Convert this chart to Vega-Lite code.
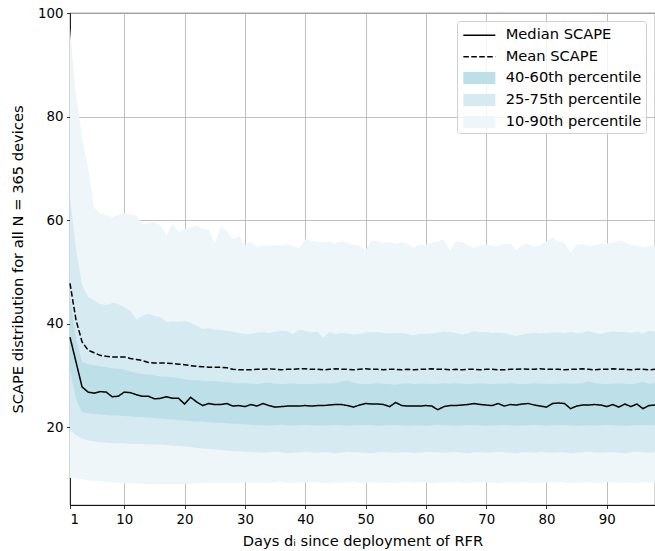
{
"$schema": "https://vega.github.io/schema/vega-lite/v6.json",
"width": 585, "height": 492,
"autosize": {"type": "none"},
"padding": {"left": 70, "top": 13, "right": 0, "bottom": 46},
"background": "white",
"config": {
 "font": "DejaVu Sans",
 "view": {"stroke": "black", "strokeWidth": 0.8},
 "axis": {"labelFont": "DejaVu Sans", "labelFontSize": 13.33, "labelColor": "black", "titleFont": "DejaVu Sans", "titleFontSize": 14.67, "titleFontWeight": "normal", "titleColor": "black", "domainColor": "black", "domainWidth": 0.8, "tickColor": "black", "tickWidth": 0.8, "tickSize": 3.5, "labelPadding": 3.5, "gridColor": "#b0b0b0", "gridWidth": 0.8, "gridOpacity": 1, "zindex": 1},
 "legend": {"orient": "none", "legendX": 387, "labelFont": "DejaVu Sans", "labelFontSize": 14.67, "labelColor": "black", "padding": 4, "rowPadding": 7, "symbolSize": 100, "labelOffset": 19, "symbolOffset": 11}
},
"data": {"values": [
{"d":1,"med":37.4,"mn":47.8,"p10":10.2,"p25":19.5,"p40":31.0,"p60":45.0,"p75":64.5,"p90":97.0},
{"d":2,"med":32.6,"mn":40.7,"p10":10.1,"p25":18.5,"p40":25.5,"p60":37.0,"p75":54.5,"p90":84.0},
{"d":3,"med":27.8,"mn":36.5,"p10":10.0,"p25":17.8,"p40":22.9,"p60":32.6,"p75":47.5,"p90":76.0},
{"d":4,"med":26.8,"mn":34.9,"p10":9.8,"p25":17.5,"p40":22.7,"p60":32.2,"p75":45.2,"p90":70.0},
{"d":5,"med":26.6,"mn":34.4,"p10":9.7,"p25":17.3,"p40":22.6,"p60":32.0,"p75":44.5,"p90":62.5},
{"d":6,"med":26.9,"mn":33.9,"p10":9.6,"p25":17.1,"p40":22.5,"p60":31.8,"p75":43.8,"p90":61.2},
{"d":7,"med":26.8,"mn":33.7,"p10":9.5,"p25":17.0,"p40":22.4,"p60":31.6,"p75":43.6,"p90":61.0},
{"d":8,"med":25.9,"mn":33.6,"p10":9.4,"p25":16.9,"p40":22.3,"p60":31.4,"p75":44.0,"p90":60.6},
{"d":9,"med":26.0,"mn":33.6,"p10":9.3,"p25":16.9,"p40":22.3,"p60":31.3,"p75":43.8,"p90":61.0},
{"d":10,"med":26.8,"mn":33.6,"p10":9.2,"p25":16.9,"p40":22.2,"p60":31.1,"p75":43.2,"p90":61.4},
{"d":11,"med":26.7,"mn":33.3,"p10":9.2,"p25":16.8,"p40":22.1,"p60":30.8,"p75":42.5,"p90":61.2},
{"d":12,"med":26.3,"mn":33.1,"p10":9.1,"p25":16.8,"p40":22.0,"p60":30.5,"p75":40.8,"p90":60.9},
{"d":13,"med":26.0,"mn":32.9,"p10":9.1,"p25":16.8,"p40":22.0,"p60":30.3,"p75":41.5,"p90":59.2},
{"d":14,"med":26.0,"mn":32.5,"p10":9.0,"p25":16.7,"p40":21.9,"p60":30.2,"p75":42.0,"p90":59.4},
{"d":15,"med":25.5,"mn":32.4,"p10":9.0,"p25":16.7,"p40":21.8,"p60":30.0,"p75":41.5,"p90":59.6},
{"d":16,"med":25.6,"mn":32.4,"p10":9.0,"p25":16.7,"p40":21.7,"p60":29.8,"p75":41.3,"p90":59.0},
{"d":17,"med":25.9,"mn":32.4,"p10":9.1,"p25":16.6,"p40":21.6,"p60":29.8,"p75":40.3,"p90":57.1},
{"d":18,"med":25.6,"mn":32.3,"p10":9.0,"p25":16.5,"p40":21.5,"p60":29.7,"p75":40.5,"p90":59.4},
{"d":19,"med":25.6,"mn":32.2,"p10":9.0,"p25":16.4,"p40":21.4,"p60":29.5,"p75":40.4,"p90":57.7},
{"d":20,"med":24.5,"mn":32.1,"p10":9.1,"p25":16.3,"p40":21.3,"p60":29.3,"p75":40.6,"p90":58.3},
{"d":21,"med":25.8,"mn":31.9,"p10":9.1,"p25":16.2,"p40":21.2,"p60":29.1,"p75":40.2,"p90":58.6},
{"d":22,"med":24.9,"mn":31.8,"p10":9.2,"p25":16.0,"p40":21.1,"p60":29.1,"p75":39.6,"p90":59.0},
{"d":23,"med":24.2,"mn":31.7,"p10":9.2,"p25":15.9,"p40":21.1,"p60":29.0,"p75":39.0,"p90":58.3},
{"d":24,"med":24.6,"mn":31.6,"p10":9.3,"p25":15.8,"p40":21.0,"p60":28.9,"p75":39.2,"p90":58.2},
{"d":25,"med":24.4,"mn":31.6,"p10":9.2,"p25":15.7,"p40":20.9,"p60":28.9,"p75":38.9,"p90":55.5},
{"d":26,"med":24.4,"mn":31.6,"p10":9.3,"p25":15.6,"p40":20.9,"p60":28.8,"p75":38.8,"p90":58.8},
{"d":27,"med":24.6,"mn":31.5,"p10":9.3,"p25":15.5,"p40":20.8,"p60":28.7,"p75":38.6,"p90":57.8},
{"d":28,"med":24.1,"mn":31.2,"p10":9.2,"p25":15.4,"p40":20.7,"p60":28.6,"p75":38.5,"p90":56.3},
{"d":29,"med":24.2,"mn":31.1,"p10":9.3,"p25":15.4,"p40":20.7,"p60":28.5,"p75":38.2,"p90":57.0},
{"d":30,"med":24.0,"mn":31.1,"p10":9.4,"p25":15.3,"p40":20.6,"p60":28.5,"p75":38.0,"p90":55.2},
{"d":31,"med":24.4,"mn":31.1,"p10":9.3,"p25":15.3,"p40":20.5,"p60":28.4,"p75":38.0,"p90":55.8},
{"d":32,"med":24.1,"mn":31.2,"p10":9.4,"p25":15.2,"p40":20.4,"p60":28.3,"p75":38.3,"p90":54.8},
{"d":33,"med":24.6,"mn":31.2,"p10":9.3,"p25":15.1,"p40":20.4,"p60":28.5,"p75":38.4,"p90":55.2},
{"d":34,"med":24.2,"mn":31.3,"p10":9.2,"p25":15.2,"p40":20.3,"p60":28.6,"p75":38.2,"p90":55.0},
{"d":35,"med":23.9,"mn":31.2,"p10":9.4,"p25":15.3,"p40":20.4,"p60":28.4,"p75":38.4,"p90":55.2},
{"d":36,"med":24.0,"mn":31.1,"p10":9.5,"p25":15.2,"p40":20.5,"p60":28.3,"p75":38.7,"p90":55.1},
{"d":37,"med":24.1,"mn":31.2,"p10":9.3,"p25":15.0,"p40":20.4,"p60":28.4,"p75":38.5,"p90":55.3},
{"d":38,"med":24.1,"mn":31.2,"p10":9.2,"p25":15.1,"p40":20.3,"p60":28.5,"p75":38.0,"p90":55.0},
{"d":39,"med":24.1,"mn":31.3,"p10":9.4,"p25":15.2,"p40":20.4,"p60":28.3,"p75":38.9,"p90":54.6},
{"d":40,"med":24.2,"mn":31.3,"p10":9.3,"p25":15.3,"p40":20.5,"p60":28.4,"p75":38.6,"p90":56.3},
{"d":41,"med":24.1,"mn":31.2,"p10":9.5,"p25":15.2,"p40":20.4,"p60":28.3,"p75":38.3,"p90":56.0},
{"d":42,"med":24.2,"mn":31.2,"p10":9.4,"p25":15.1,"p40":20.4,"p60":28.4,"p75":38.5,"p90":55.9},
{"d":43,"med":24.2,"mn":31.1,"p10":9.3,"p25":15.2,"p40":20.3,"p60":28.5,"p75":37.3,"p90":55.7},
{"d":44,"med":24.3,"mn":31.2,"p10":9.2,"p25":15.2,"p40":20.4,"p60":28.4,"p75":38.4,"p90":55.9},
{"d":45,"med":24.4,"mn":31.3,"p10":9.4,"p25":15.0,"p40":20.5,"p60":28.5,"p75":38.0,"p90":55.5},
{"d":46,"med":24.4,"mn":31.2,"p10":9.3,"p25":15.1,"p40":20.4,"p60":28.8,"p75":38.2,"p90":55.9},
{"d":47,"med":24.2,"mn":31.2,"p10":9.4,"p25":15.3,"p40":20.3,"p60":29.1,"p75":38.1,"p90":55.6},
{"d":48,"med":23.9,"mn":31.1,"p10":9.5,"p25":15.2,"p40":20.4,"p60":28.6,"p75":37.9,"p90":55.3},
{"d":49,"med":24.3,"mn":31.2,"p10":9.3,"p25":15.2,"p40":20.4,"p60":28.4,"p75":38.0,"p90":55.0},
{"d":50,"med":24.6,"mn":31.3,"p10":9.2,"p25":15.1,"p40":20.5,"p60":28.3,"p75":38.3,"p90":54.2},
{"d":51,"med":24.5,"mn":31.2,"p10":9.4,"p25":15.0,"p40":20.4,"p60":28.4,"p75":38.4,"p90":56.1},
{"d":52,"med":24.5,"mn":31.2,"p10":9.3,"p25":15.2,"p40":20.3,"p60":28.5,"p75":38.4,"p90":55.9},
{"d":53,"med":24.4,"mn":31.1,"p10":9.4,"p25":15.3,"p40":20.4,"p60":28.4,"p75":38.2,"p90":55.6},
{"d":54,"med":24.0,"mn":31.2,"p10":9.3,"p25":15.2,"p40":20.4,"p60":28.3,"p75":38.1,"p90":55.8},
{"d":55,"med":24.8,"mn":31.2,"p10":9.2,"p25":15.1,"p40":20.5,"p60":28.2,"p75":38.2,"p90":55.4},
{"d":56,"med":24.2,"mn":31.1,"p10":9.4,"p25":15.2,"p40":20.4,"p60":28.4,"p75":38.2,"p90":55.8},
{"d":57,"med":24.1,"mn":31.2,"p10":9.5,"p25":15.2,"p40":20.3,"p60":28.5,"p75":38.0,"p90":55.4},
{"d":58,"med":24.1,"mn":31.1,"p10":9.3,"p25":15.0,"p40":20.4,"p60":28.3,"p75":37.8,"p90":54.7},
{"d":59,"med":24.1,"mn":31.2,"p10":9.4,"p25":15.1,"p40":20.4,"p60":28.4,"p75":38.1,"p90":55.3},
{"d":60,"med":24.2,"mn":31.2,"p10":9.3,"p25":15.3,"p40":20.3,"p60":28.4,"p75":38.0,"p90":55.2},
{"d":61,"med":24.1,"mn":31.3,"p10":9.2,"p25":15.2,"p40":20.4,"p60":28.3,"p75":38.1,"p90":55.7},
{"d":62,"med":23.4,"mn":31.2,"p10":9.4,"p25":15.2,"p40":20.5,"p60":28.4,"p75":38.3,"p90":55.9},
{"d":63,"med":24.0,"mn":31.2,"p10":9.3,"p25":15.1,"p40":20.4,"p60":28.5,"p75":38.5,"p90":56.3},
{"d":64,"med":24.2,"mn":31.1,"p10":9.4,"p25":15.2,"p40":20.4,"p60":28.4,"p75":38.4,"p90":54.2},
{"d":65,"med":24.2,"mn":31.2,"p10":9.5,"p25":15.3,"p40":20.3,"p60":28.5,"p75":38.2,"p90":55.9},
{"d":66,"med":24.3,"mn":31.1,"p10":9.3,"p25":15.1,"p40":20.4,"p60":28.4,"p75":37.9,"p90":55.7},
{"d":67,"med":24.4,"mn":31.2,"p10":9.2,"p25":15.0,"p40":20.5,"p60":28.3,"p75":38.1,"p90":55.2},
{"d":68,"med":24.6,"mn":31.2,"p10":9.4,"p25":15.2,"p40":20.4,"p60":28.4,"p75":38.6,"p90":54.6},
{"d":69,"med":24.4,"mn":31.1,"p10":9.3,"p25":15.2,"p40":20.4,"p60":28.5,"p75":38.4,"p90":55.1},
{"d":70,"med":24.3,"mn":31.2,"p10":9.4,"p25":15.1,"p40":20.3,"p60":28.4,"p75":38.4,"p90":55.3},
{"d":71,"med":24.2,"mn":31.2,"p10":9.3,"p25":15.2,"p40":20.4,"p60":28.3,"p75":38.2,"p90":55.0},
{"d":72,"med":24.6,"mn":31.1,"p10":9.2,"p25":15.3,"p40":20.4,"p60":28.4,"p75":38.3,"p90":55.0},
{"d":73,"med":24.1,"mn":31.1,"p10":9.4,"p25":15.2,"p40":20.5,"p60":28.4,"p75":38.1,"p90":55.4},
{"d":74,"med":24.4,"mn":31.2,"p10":9.5,"p25":15.1,"p40":20.4,"p60":28.5,"p75":37.9,"p90":55.5},
{"d":75,"med":24.3,"mn":31.2,"p10":9.3,"p25":15.0,"p40":20.3,"p60":28.4,"p75":37.6,"p90":54.2},
{"d":76,"med":24.5,"mn":31.3,"p10":9.4,"p25":15.2,"p40":20.4,"p60":28.3,"p75":37.9,"p90":55.3},
{"d":77,"med":24.6,"mn":31.2,"p10":9.3,"p25":15.2,"p40":20.4,"p60":28.4,"p75":38.1,"p90":55.4},
{"d":78,"med":24.3,"mn":31.2,"p10":9.2,"p25":15.1,"p40":20.5,"p60":28.5,"p75":38.2,"p90":54.8},
{"d":79,"med":24.1,"mn":31.3,"p10":9.4,"p25":15.3,"p40":20.4,"p60":28.4,"p75":38.1,"p90":55.2},
{"d":80,"med":23.9,"mn":31.2,"p10":9.3,"p25":15.2,"p40":20.3,"p60":28.4,"p75":38.2,"p90":55.9},
{"d":81,"med":24.6,"mn":31.2,"p10":9.4,"p25":15.1,"p40":20.4,"p60":28.3,"p75":38.3,"p90":56.6},
{"d":82,"med":24.7,"mn":31.2,"p10":9.5,"p25":15.2,"p40":20.4,"p60":28.4,"p75":38.3,"p90":55.9},
{"d":83,"med":24.6,"mn":31.1,"p10":9.3,"p25":15.2,"p40":20.5,"p60":28.5,"p75":38.2,"p90":55.6},
{"d":84,"med":23.6,"mn":31.2,"p10":9.2,"p25":15.0,"p40":20.4,"p60":28.4,"p75":38.4,"p90":53.7},
{"d":85,"med":24.1,"mn":31.2,"p10":9.4,"p25":15.1,"p40":20.3,"p60":28.4,"p75":38.2,"p90":55.3},
{"d":86,"med":24.3,"mn":31.3,"p10":9.3,"p25":15.2,"p40":20.4,"p60":28.5,"p75":38.3,"p90":55.4},
{"d":87,"med":24.3,"mn":31.2,"p10":9.4,"p25":15.3,"p40":20.4,"p60":28.9,"p75":38.6,"p90":55.0},
{"d":88,"med":24.4,"mn":31.1,"p10":9.3,"p25":15.2,"p40":20.3,"p60":28.5,"p75":38.2,"p90":55.2},
{"d":89,"med":24.3,"mn":31.2,"p10":9.2,"p25":15.1,"p40":20.4,"p60":28.4,"p75":38.0,"p90":55.4},
{"d":90,"med":24.0,"mn":31.2,"p10":9.4,"p25":15.2,"p40":20.5,"p60":28.3,"p75":38.3,"p90":55.5},
{"d":91,"med":24.4,"mn":31.3,"p10":9.5,"p25":15.2,"p40":20.4,"p60":28.4,"p75":38.5,"p90":55.7},
{"d":92,"med":23.9,"mn":31.2,"p10":9.3,"p25":15.1,"p40":20.4,"p60":28.5,"p75":38.4,"p90":56.0},
{"d":93,"med":24.5,"mn":31.2,"p10":9.4,"p25":15.0,"p40":20.3,"p60":28.4,"p75":38.4,"p90":55.8},
{"d":94,"med":24.0,"mn":31.1,"p10":9.3,"p25":15.2,"p40":20.4,"p60":28.3,"p75":38.2,"p90":55.3},
{"d":95,"med":24.5,"mn":31.2,"p10":9.2,"p25":15.3,"p40":20.4,"p60":28.5,"p75":38.5,"p90":55.0},
{"d":96,"med":23.6,"mn":31.2,"p10":9.4,"p25":15.2,"p40":20.5,"p60":28.8,"p75":38.1,"p90":54.8},
{"d":97,"med":24.2,"mn":31.1,"p10":9.3,"p25":15.1,"p40":20.4,"p60":28.4,"p75":38.6,"p90":55.0},
{"d":98,"med":24.3,"mn":31.2,"p10":9.4,"p25":15.2,"p40":20.4,"p60":28.5,"p75":38.5,"p90":55.0}
]},
"encoding": {
 "x": {"field": "d", "type": "quantitative", "scale": {"domain": [1, 98], "nice": false, "zero": false},
  "axis": {"values": [1, 10, 20, 30, 40, 50, 60, 70, 80, 90], "title": "Days dᵢ since deployment of RFR", "titlePadding": 8}}
},
"layer": [
 {"mark": {"type": "area", "opacity": 1},
  "encoding": {
   "y": {"field": "p90", "type": "quantitative", "scale": {"domain": [5, 100], "nice": false, "zero": false},
    "axis": {"values": [20, 40, 60, 80, 100], "title": "SCAPE distribution for all N = 365 devices", "titlePadding": 12}},
   "y2": {"field": "p10"},
   "color": {"datum": "10-90th percentile", "type": "nominal",
    "scale": {"domain": ["40-60th percentile", "25-75th percentile", "10-90th percentile"], "range": ["#bcdfe8", "#d5eaf1", "#eef6f9"]},
    "legend": {"title": [" ", " "], "titleFontSize": 14.67, "titleLineHeight": 30, "titlePadding": 1, "legendY": 8, "rowPadding": 6, "labelOffset": 19, "fillColor": "rgba(255,255,255,0.8)", "strokeColor": "#d0d0d0", "cornerRadius": 3, "symbolType": "M-3.2,-1.2H3.2V1.2H-3.2Z", "symbolStrokeWidth": 0, "symbolOpacity": 1}
   }
  }},
 {"mark": {"type": "area", "opacity": 1},
  "encoding": {"y": {"field": "p75", "type": "quantitative"}, "y2": {"field": "p25"}, "color": {"datum": "25-75th percentile", "type": "nominal"}}},
 {"mark": {"type": "area", "opacity": 1},
  "encoding": {"y": {"field": "p60", "type": "quantitative"}, "y2": {"field": "p40"}, "color": {"datum": "40-60th percentile", "type": "nominal"}}},
 {"mark": {"type": "line", "color": "black", "strokeWidth": 1.5},
  "encoding": {"y": {"field": "med", "type": "quantitative"},
   "strokeDash": {"datum": "Median SCAPE", "type": "nominal",
    "scale": {"domain": ["Median SCAPE", "Mean SCAPE"], "range": [[1, 0], [5.55, 2.4]]},
    "legend": {"title": null, "legendY": 11, "rowPadding": 5.5, "labelOffset": 19, "symbolType": "M-3.2,0H3.2", "symbolStrokeColor": "black", "symbolStrokeWidth": 1.5, "symbolFillColor": "transparent"}}}},
 {"mark": {"type": "line", "color": "black", "strokeWidth": 1.5},
  "encoding": {"y": {"field": "mn", "type": "quantitative"},
   "strokeDash": {"datum": "Mean SCAPE", "type": "nominal"}}}
]
}
